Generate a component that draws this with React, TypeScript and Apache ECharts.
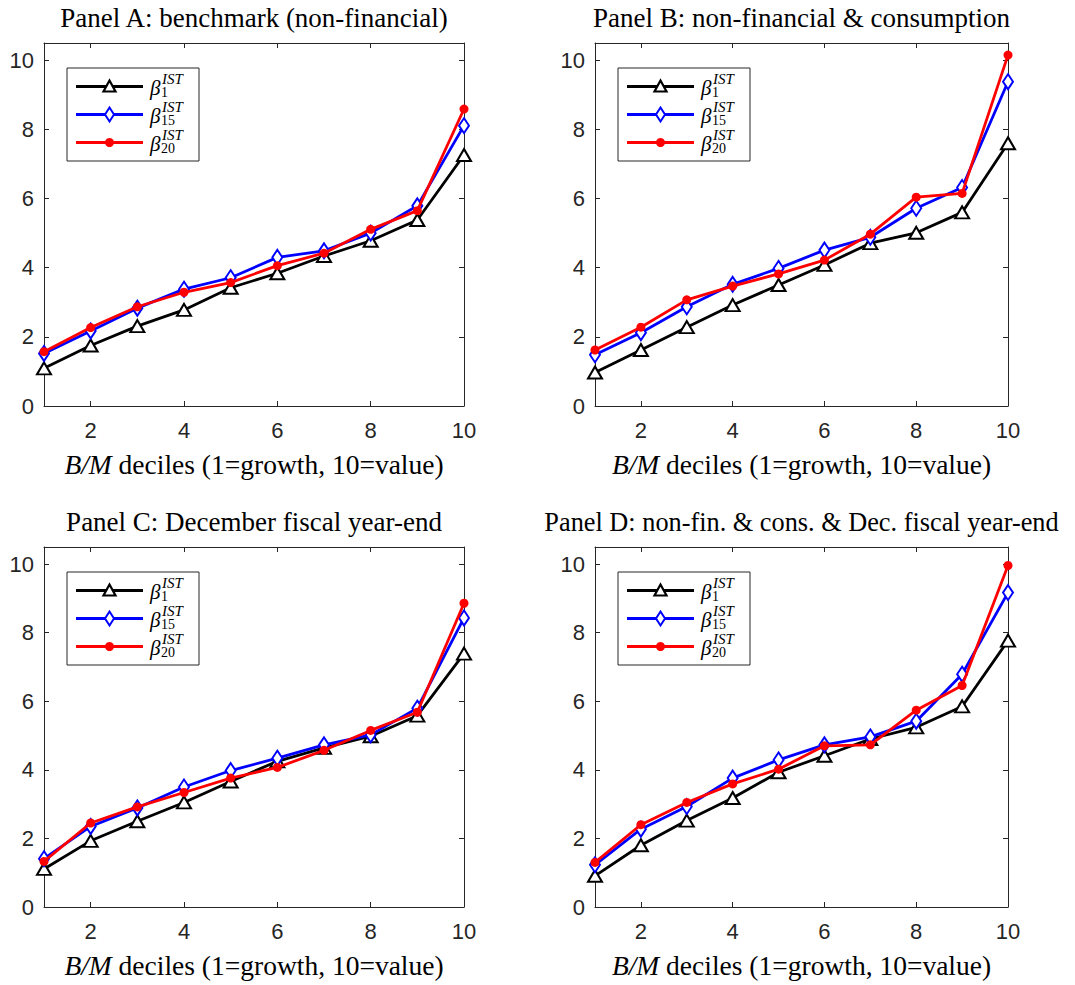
import React, { useEffect, useRef } from "react";
import * as echarts from "echarts";

// ---------- data ----------
const deciles = [1, 2, 3, 4, 5, 6, 7, 8, 9, 10];
const xTickValues = [2, 4, 6, 8, 10];
const yTickValues = [0, 2, 4, 6, 8, 10];
const panelTitles = [
  "Panel A: benchmark (non-financial)",
  "Panel B: non-financial & consumption",
  "Panel C: December fiscal year-end",
  "Panel D: non-fin. & cons. & Dec. fiscal year-end",
];
const seriesSubscripts = ["1", "15", "20"];

// Panel A
const panelA_beta1 = [1.09, 1.75, 2.31, 2.78, 3.42, 3.84, 4.34, 4.78, 5.38, 7.26];
const panelA_beta15 = [1.52, 2.17, 2.83, 3.38, 3.71, 4.3, 4.49, 5.0, 5.79, 8.11];
const panelA_beta20 = [1.57, 2.27, 2.87, 3.29, 3.57, 4.06, 4.42, 5.11, 5.65, 8.59];
// Panel B
const panelB_beta1 = [0.97, 1.62, 2.28, 2.92, 3.5, 4.08, 4.71, 5.01, 5.6, 7.6];
const panelB_beta15 = [1.48, 2.12, 2.87, 3.52, 3.98, 4.51, 4.88, 5.72, 6.32, 9.38];
const panelB_beta20 = [1.62, 2.28, 3.07, 3.47, 3.82, 4.22, 4.97, 6.04, 6.15, 10.15];
// Panel C
const panelC_beta1 = [1.11, 1.93, 2.5, 3.05, 3.66, 4.25, 4.64, 4.98, 5.58, 7.39];
const panelC_beta15 = [1.41, 2.35, 2.89, 3.5, 3.98, 4.34, 4.73, 5.02, 5.8, 8.43];
const panelC_beta20 = [1.33, 2.45, 2.92, 3.34, 3.76, 4.07, 4.57, 5.15, 5.68, 8.86];
// Panel D
const panelD_beta1 = [0.91, 1.8, 2.52, 3.18, 3.93, 4.41, 4.9, 5.24, 5.85, 7.77];
const panelD_beta15 = [1.23, 2.27, 2.93, 3.76, 4.29, 4.73, 4.96, 5.42, 6.79, 9.17];
const panelD_beta20 = [1.3, 2.4, 3.05, 3.59, 4.02, 4.7, 4.73, 5.74, 6.46, 9.96];

const panelData = [
  [panelA_beta1, panelA_beta15, panelA_beta20],
  [panelB_beta1, panelB_beta15, panelB_beta20],
  [panelC_beta1, panelC_beta15, panelC_beta20],
  [panelD_beta1, panelD_beta15, panelD_beta20],
];

// ---------- layout / style ----------
const grids = [
  { left: 44, top: 43, width: 420, height: 363 },
  { left: 595, top: 43, width: 413, height: 363 },
  { left: 44, top: 547, width: 420, height: 360 },
  { left: 595, top: 547, width: 413, height: 360 },
];
const titleSizes = [27, 27, 27, 26.3];
const seriesColors = ["#000000", "#0000ff", "#ff0000"];
const axisColor = "#262626";
const serif = "Liberation Serif";
const sans = "Liberation Sans";

function buildOption() {
  const xAxis: any[] = [];
  const yAxis: any[] = [];
  const series: any[] = [];
  const graphic: any[] = [];

  grids.forEach((g, gi) => {
    const lineStyle = { color: axisColor, width: 1 };
    xAxis.push({
      gridIndex: gi,
      type: "value",
      min: 1,
      max: 10,
      position: "bottom",
      axisLine: { show: true, onZero: false, lineStyle },
      axisTick: { show: true, inside: true, length: 5, customValues: xTickValues, lineStyle },
      axisLabel: {
        customValues: xTickValues,
        fontSize: 22,
        fontFamily: sans,
        color: axisColor,
        margin: 13,
      },
      splitLine: { show: false },
      name: "{i|B/M}{r| deciles (1=growth, 10=value)}",
      nameLocation: "middle",
      nameGap: 44,
      nameTextStyle: {
        fontSize: 27.5,
        fontFamily: serif,
        color: "#000",
        rich: {
          i: { fontSize: 27.5, fontFamily: serif, fontStyle: "italic", color: "#000" },
          r: { fontSize: 27.5, fontFamily: serif, color: "#000" },
        },
      },
    });
    xAxis.push({
      gridIndex: gi,
      type: "value",
      min: 1,
      max: 10,
      position: "top",
      axisLine: { show: true, onZero: false, lineStyle },
      axisTick: { show: true, inside: true, length: 5, customValues: xTickValues, lineStyle },
      axisLabel: { show: false },
      splitLine: { show: false },
    });
    yAxis.push({
      gridIndex: gi,
      type: "value",
      min: 0,
      max: 10.5,
      position: "left",
      axisLine: { show: true, onZero: false, lineStyle },
      axisTick: { show: true, inside: true, length: 5, customValues: yTickValues, lineStyle },
      axisLabel: {
        customValues: yTickValues,
        fontSize: 22,
        fontFamily: sans,
        color: axisColor,
        margin: 10,
      },
      splitLine: { show: false },
    });
    yAxis.push({
      gridIndex: gi,
      type: "value",
      min: 0,
      max: 10.5,
      position: "right",
      axisLine: { show: true, onZero: false, lineStyle },
      axisTick: { show: true, inside: true, length: 5, customValues: yTickValues, lineStyle },
      axisLabel: { show: false },
      splitLine: { show: false },
    });

    const symbols = ["emptyTriangle", "emptyDiamond", "circle"];
    const sizes: any[] = [[14, 12], [10, 15], 9];
    panelData[gi].forEach((vals, si) => {
      series.push({
        type: "line",
        name: "β" + seriesSubscripts[si] + " IST",
        xAxisIndex: gi * 2,
        yAxisIndex: gi * 2,
        data: deciles.map((d, i) => [d, vals[i]]),
        symbol: symbols[si],
        symbolSize: sizes[si],
        showAllSymbol: true,
        clip: false,
        lineStyle: { color: seriesColors[si], width: 2.8 },
        itemStyle: {
          color: seriesColors[si],
          borderColor: seriesColors[si],
          borderWidth: si === 2 ? 0 : 2.2,
        },
        emphasis: { disabled: true },
        z: 2 + si,
      });
    });

    // title
    graphic.push({
      type: "text",
      x: g.left + g.width / 2,
      y: g.top - 25,
      style: {
        text: panelTitles[gi],
        align: "center",
        verticalAlign: "middle",
        fontFamily: serif,
        fontSize: titleSizes[gi],
        fill: "#000",
      },
    });

    // legend box
    const bx = g.left + 23;
    const by = g.top + 25;
    graphic.push({
      type: "rect",
      shape: { x: bx, y: by, width: 132, height: 93 },
      style: { fill: "#fff", stroke: axisColor, lineWidth: 1 },
      z: 10,
    });
    seriesSubscripts.forEach((sub, si) => {
      const ly = by + 18.5 + 28 * si;
      const cx = bx + 42.5;
      const col = seriesColors[si];
      graphic.push({
        type: "line",
        shape: { x1: bx + 9, y1: ly, x2: bx + 76, y2: ly },
        style: { stroke: col, lineWidth: 2.8 },
        z: 11,
      });
      if (si === 0) {
        graphic.push({
          type: "polygon",
          shape: { points: [[cx, ly - 6], [cx + 6, ly + 5], [cx - 6, ly + 5]] },
          style: { fill: "#fff", stroke: col, lineWidth: 2.2 },
          z: 12,
        });
      } else if (si === 1) {
        graphic.push({
          type: "polygon",
          shape: { points: [[cx, ly - 7], [cx + 4.5, ly], [cx, ly + 7], [cx - 4.5, ly]] },
          style: { fill: "#fff", stroke: col, lineWidth: 2 },
          z: 12,
        });
      } else {
        graphic.push({
          type: "circle",
          shape: { cx, cy: ly, r: 4.5 },
          style: { fill: col },
          z: 12,
        });
      }
      graphic.push({
        type: "text",
        x: bx + 83,
        y: ly + 1,
        style: {
          text: "β",
          fontFamily: serif,
          fontStyle: "italic",
          fontSize: 21,
          lineHeight: 21,
          fill: "#000",
          verticalAlign: "middle",
        },
        z: 12,
      });
      graphic.push({
        type: "text",
        x: bx + 95,
        y: ly - 8,
        style: {
          text: "IST",
          fontFamily: serif,
          fontStyle: "italic",
          fontSize: 15,
          lineHeight: 12,
          fill: "#000",
          verticalAlign: "middle",
        },
        z: 12,
      });
      graphic.push({
        type: "text",
        x: bx + 94,
        y: ly + 5.5,
        style: {
          text: sub,
          fontFamily: serif,
          fontSize: 14,
          lineHeight: 12,
          fill: "#000",
          verticalAlign: "middle",
        },
        z: 12,
      });
    });
  });

  return {
    animation: false,
    backgroundColor: "#ffffff",
    grid: grids.map((g) => ({ ...g, containLabel: false })),
    xAxis,
    yAxis,
    series,
    graphic,
  };
}

export default function App() {
  const ref = useRef<HTMLDivElement>(null);
  useEffect(() => {
    if (!ref.current) return;
    const chart = echarts.init(ref.current, undefined, { renderer: "svg" });
    chart.setOption(buildOption() as any);
    return () => chart.dispose();
  }, []);
  return (
    <div
      ref={ref}
      style={{ position: "absolute", left: 0, top: 0, width: 1075, height: 985, background: "#fff" }}
    />
  );
}
